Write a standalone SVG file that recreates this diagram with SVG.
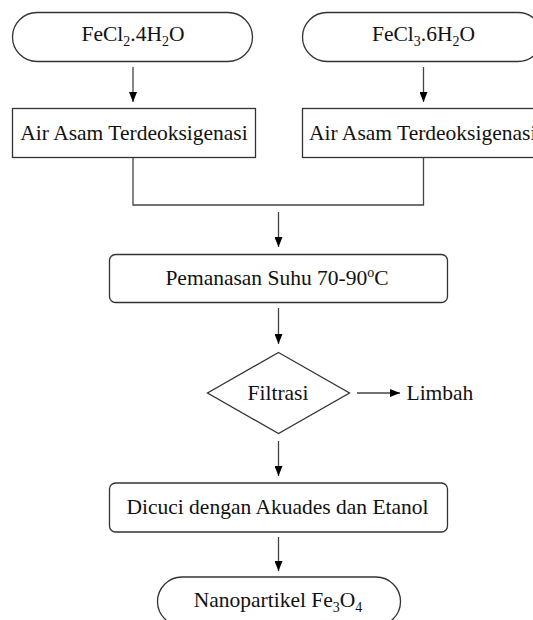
<svg xmlns="http://www.w3.org/2000/svg" width="533" height="620" viewBox="0 0 533 620">
<style>
.shape{fill:#fff;stroke:#333;stroke-width:1.3}
.conn{fill:none;stroke:#444;stroke-width:1.3}
text{font-family:"Liberation Serif","Times New Roman",serif;font-size:21.5px;fill:#111}
.m{text-anchor:middle}
.sub{font-size:14px}
</style>
<defs>
<marker id="ah" markerUnits="userSpaceOnUse" markerWidth="10" markerHeight="8" refX="10" refY="4" orient="auto">
<path d="M0,0 L10,4 L0,8 z" fill="#000"/>
</marker>
</defs>
<rect width="533" height="620" fill="#fff"/>
<g id="connectors">
<line class="conn" x1="133" y1="67" x2="133" y2="102" marker-end="url(#ah)"/>
<line class="conn" x1="423.5" y1="67" x2="423.5" y2="102" marker-end="url(#ah)"/>
<path class="conn" d="M133,157.5 V205 H423.5 V157.5"/>
<line class="conn" x1="278.5" y1="212" x2="278.5" y2="247" marker-end="url(#ah)"/>
<line class="conn" x1="278.5" y1="308" x2="278.5" y2="344" marker-end="url(#ah)"/>
<line class="conn" x1="357" y1="393" x2="400" y2="393" marker-end="url(#ah)"/>
<line class="conn" x1="278.5" y1="441" x2="278.5" y2="476" marker-end="url(#ah)"/>
<line class="conn" x1="278.5" y1="537" x2="278.5" y2="571" marker-end="url(#ah)"/>
</g>
<g id="fecl2">
<rect class="shape" x="12.5" y="12.5" width="240" height="49" rx="24.5"/>
<text class="m" x="133" y="41">FeCl<tspan class="sub" dy="5">2</tspan><tspan dy="-5">.4H</tspan><tspan class="sub" dy="5">2</tspan><tspan dy="-5">O</tspan></text>
</g>
<g id="fecl3">
<rect class="shape" x="302.5" y="12.5" width="240" height="49" rx="24.5"/>
<text class="m" x="423.5" y="41">FeCl<tspan class="sub" dy="5">3</tspan><tspan dy="-5">.6H</tspan><tspan class="sub" dy="5">2</tspan><tspan dy="-5">O</tspan></text>
</g>
<g id="air1">
<rect class="shape" x="12.5" y="108.5" width="243" height="49"/>
<text class="m" x="134" y="140">Air Asam Terdeoksigenasi</text>
</g>
<g id="air2">
<rect class="shape" x="302.5" y="108.5" width="243" height="49"/>
<text x="309" y="140">Air Asam Terdeoksigenasi</text>
</g>
<g id="pemanasan">
<rect class="shape" x="109.5" y="254.5" width="338" height="48" rx="6"/>
<text class="m" x="277" y="285">Pemanasan Suhu 70-90<tspan class="sub" dy="-8" font-size="15px">o</tspan><tspan dy="8">C</tspan></text>
</g>
<g id="filtrasi">
<polygon class="shape" points="278.5,352.5 349.5,393 278.5,433.5 207.5,393"/>
<text class="m" x="278" y="400">Filtrasi</text>
</g>
<g id="limbah">
<text x="406.5" y="400">Limbah</text>
</g>
<g id="dicuci">
<rect class="shape" x="109.5" y="483" width="338" height="49" rx="6"/>
<text class="m" x="277.5" y="514">Dicuci dengan Akuades dan Etanol</text>
</g>
<g id="nano">
<rect class="shape" x="157.5" y="577" width="243" height="49" rx="24.5"/>
<text class="m" x="278" y="607">Nanopartikel Fe<tspan class="sub" dy="5">3</tspan><tspan dy="-5">O</tspan><tspan class="sub" dy="5">4</tspan></text>
</g>
</svg>
